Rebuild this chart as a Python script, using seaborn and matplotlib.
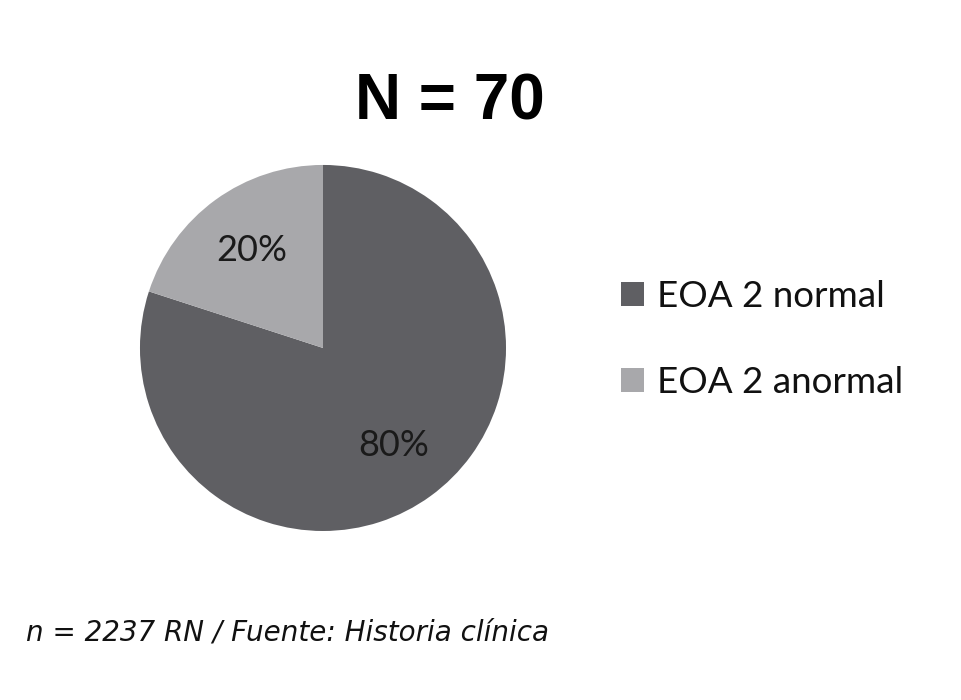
import matplotlib
matplotlib.use('Agg')
import matplotlib.pyplot as plt
import seaborn as sns

# data
labels = ['EOA 2 normal', 'EOA 2 anormal']
values = [80, 20]
colors = ['#5f5f63', '#a8a8ab']
title = 'N = 70'
note = 'n = 2237 RN / Fuente: Historia clínica'

sns.set_style('white')

fig = plt.figure(figsize=(9.62, 7), dpi=100)
ax = fig.add_axes([0.1455, 0.2414, 0.3805, 0.523])

wedges, texts, autotexts = ax.pie(
    values, colors=colors, startangle=90, counterclock=False,
    autopct='%1.0f%%', pctdistance=0.66, wedgeprops={'linewidth': 0},
    textprops={'fontsize': 26, 'family': 'Lato', 'color': '#1a1a1a'})
ax.set_xlim(-1, 1)
ax.set_ylim(-1, 1)
ax.set_aspect('equal')

fig.text(0.468, 0.853, title, ha='center', va='center', fontsize=46,
         fontweight='bold', family='Liberation Sans', color='black')

fig.legend(wedges, labels, loc='center left', bbox_to_anchor=(0.611, 0.515),
           frameon=False, handlelength=0.62, handleheight=0.62,
           handletextpad=0.35, labelspacing=1.45,
           prop={'family': 'Lato', 'size': 26.5}, labelcolor='#111111')

fig.text(0.027, 0.096, note, ha='left', va='center', fontsize=20,
         style='italic', family='DejaVu Sans', color='#111111')

fig.savefig('out.png', dpi=100)
